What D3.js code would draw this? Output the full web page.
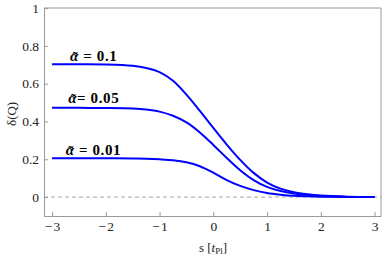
<!DOCTYPE html>
<html>
<head>
<meta charset="utf-8">
<script src="https://cdn.jsdelivr.net/npm/d3@7"></script>
<style>
  body { margin: 0; background: #fff; }
  svg text { font-family: "Liberation Serif", "Times New Roman", serif; }
</style>
</head>
<body>
<div id="chart"></div>
<script>
// s values (in Planck times) where the curves were read
var sValues = [-3, -2.5, -2, -1.5, -1.25, -1, -0.75, -0.5, -0.25, 0, 0.25, 0.5, 0.75, 1, 1.25, 1.5, 1.75, 2, 2.5, 3];
var alpha01  = [0.702, 0.702, 0.701, 0.694, 0.683, 0.661, 0.615, 0.542, 0.456, 0.366, 0.278, 0.197, 0.128, 0.077, 0.045, 0.026, 0.015, 0.008, 0.002, 0.000];
var alpha005 = [0.472, 0.472, 0.471, 0.468, 0.463, 0.452, 0.430, 0.395, 0.342, 0.276, 0.207, 0.142, 0.090, 0.054, 0.032, 0.019, 0.011, 0.006, 0.001, 0.000];
var alpha001 = [0.205, 0.205, 0.205, 0.204, 0.203, 0.200, 0.195, 0.184, 0.163, 0.129, 0.090, 0.059, 0.037, 0.022, 0.013, 0.007, 0.004, 0.002, 0.001, 0.000];
var seriesValues = ["0.1", "0.05", "0.01"];
var xTicks = [-3, -2, -1, 0, 1, 2, 3];
var yTicks = [0, 0.2, 0.4, 0.6, 0.8, 1];

var width = 382, height = 257;
var plotLeft = 44, plotTop = 8, plotRight = 381, plotBottom = 216;

var x = d3.scaleLinear().domain([-3.15, 3.12]).range([plotLeft, plotRight]);
var y = d3.scaleLinear().domain([-0.1, 1]).range([plotBottom, plotTop]);

var svg = d3.select("#chart").append("svg")
    .attr("width", width).attr("height", height);

var frameColor = "#999";

// zero line
svg.append("line")
    .attr("x1", plotLeft).attr("x2", plotRight)
    .attr("y1", y(0)).attr("y2", y(0))
    .attr("stroke", "#aaa").attr("stroke-width", 1)
    .attr("stroke-dasharray", "4,3");

// axes with inward ticks
var fmt = function(d) { return d == 0 ? "0" : (d < 0 ? "\u2212\u200a" + Math.abs(d) : "" + d); };
var gx = svg.append("g").attr("transform", "translate(0," + plotBottom + ")")
    .call(d3.axisBottom(x).tickValues(xTicks).tickSizeInner(-4).tickSizeOuter(0).tickPadding(5).tickFormat(fmt));
var gy = svg.append("g").attr("transform", "translate(" + plotLeft + ",0)")
    .call(d3.axisLeft(y).tickValues(yTicks).tickSizeInner(-4).tickSizeOuter(0).tickPadding(5)
      .tickFormat(function(d) { return d == 0 ? "0" : d == 1 ? "1" : d3.format(".1f")(d); }));
[gx, gy].forEach(function(g) {
  g.attr("font-family", null);
  g.select(".domain").attr("stroke", frameColor);
  g.selectAll(".tick line").attr("stroke", frameColor);
  g.selectAll(".tick text").attr("fill", "#222").style("font-size", "13.5px");
});

// top and right frame
svg.append("line").attr("x1", plotLeft).attr("x2", plotRight).attr("y1", plotTop).attr("y2", plotTop)
    .attr("stroke", frameColor);
svg.append("line").attr("x1", plotRight).attr("x2", plotRight).attr("y1", plotTop).attr("y2", plotBottom)
    .attr("stroke", frameColor);

// curves
var line = d3.line()
    .x(function(d) { return x(d[0]); })
    .y(function(d) { return y(d[1]); })
    .curve(d3.curveCatmullRom);

[alpha01, alpha005, alpha001].forEach(function(vals) {
  svg.append("path")
    .datum(sValues.map(function(s, i) { return [s, vals[i]]; }))
    .attr("d", line)
    .attr("fill", "none")
    .attr("stroke", "#0000ff")
    .attr("stroke-width", 2);
});

// curve labels (alpha with a tilde on top)
var labelX = [-2.665, -2.70, -2.745];
var labelY = [0.72, 0.495, 0.224];
var labelEq = [" = ", "= ", " = "];
seriesValues.forEach(function(v, i) {
  var t = svg.append("text")
    .attr("x", x(labelX[i])).attr("y", y(labelY[i]))
    .attr("fill", "#000")
    .style("font-size", "15px").style("font-weight", "bold")
    .style("letter-spacing", "0.6px")
    .style("white-space", "pre");
  t.append("tspan").style("font-style", "italic").text("\u03b1");
  t.append("tspan").text(labelEq[i] + v);
  var box = t.node().getExtentOfChar(0);
  svg.append("text")
    .attr("x", box.x + box.width / 2 + 0.5).attr("y", y(labelY[i]) + 1)
    .attr("text-anchor", "middle")
    .style("font-size", "15px").style("font-weight", "bold")
    .text("\u02dc");
});

// axis titles
var xt = svg.append("text")
    .attr("x", 213).attr("y", 252)
    .attr("text-anchor", "middle").attr("fill", "#222")
    .style("font-size", "13px");
xt.append("tspan").text("s [");
xt.append("tspan").style("font-style", "italic").text("t");
xt.append("tspan").attr("dy", 2).style("font-size", "9px").text("Pl");
xt.append("tspan").attr("dy", -2).text("]");

svg.append("text")
    .attr("transform", "translate(16," + y(0.44) + ") rotate(-90)")
    .attr("text-anchor", "middle").attr("fill", "#222")
    .style("font-size", "13px")
    .text("\u03b4(Q)");
</script>
</body>
</html>
